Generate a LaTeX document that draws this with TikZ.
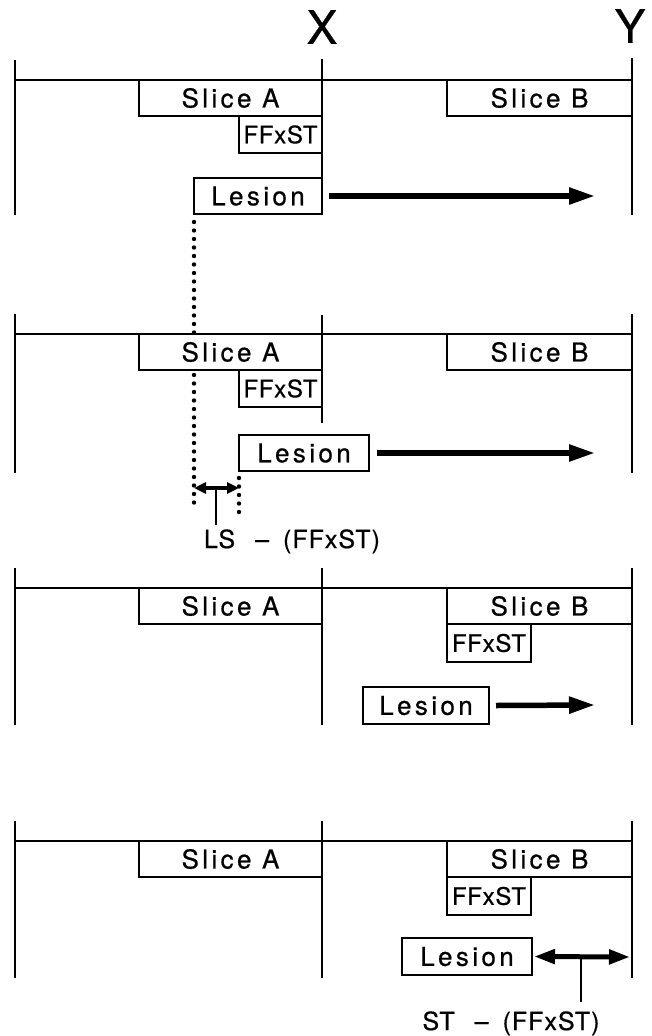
\documentclass[tikz,border=0pt]{standalone}
\usepackage{fontspec}
\setmainfont{TeX Gyre Heros}
\newfontfamily\spacedfont[LetterSpace=13,FakeBold=0.6]{TeX Gyre Heros}
\newfontfamily\ffxfont[LetterSpace=3,FakeBold=0.6]{TeX Gyre Heros}
\newfontfamily\labfont[LetterSpace=4,FakeBold=0.6]{TeX Gyre Heros}
\newfontfamily\bigfont[FakeBold=0.6]{TeX Gyre Heros}
\usetikzlibrary{arrows.meta}
\begin{document}
\begin{tikzpicture}[x=1pt,y=-1pt,
  ln/.style={line width=2.8pt},
  bx/.style={draw, fill=white, line width=2.8pt, inner sep=0pt, outer sep=0pt, anchor=north west,
    font=\spacedfont\fontsize{26}{26}\selectfont},
  fx/.style={bx, font=\ffxfont\fontsize{24}{24}\selectfont},
  lab/.style={anchor=base, inner sep=0pt, font=\labfont\fontsize{25}{25}\selectfont},
  big/.style={line width=5.5pt, -{Triangle[length=26pt,width=16pt]}},
  dbl/.style={line width=4pt, {Triangle[length=12pt,width=11pt]}-{Triangle[length=12pt,width=11pt]}},
  dblb/.style={line width=5pt, {Triangle[length=21pt,width=14pt]}-{Triangle[length=21pt,width=14pt]}},
  dots/.style={line width=4.4pt, line cap=round, dash pattern=on 0pt off 8.5pt}
]
\useasboundingbox (0,0) rectangle (652,1036);

% axis labels
\node[font=\bigfont\fontsize{46}{46}\selectfont, inner sep=0pt] (X) at (322,27) {X};
\node[font=\bigfont\fontsize{46}{46}\selectfont, inner sep=0pt] (Y) at (630,26) {Y};

% dotted guide lines (behind boxes)
\coordinate (d1a) at (194,222);
\coordinate (d1b) at (194,510);
\coordinate (d2a) at (239,478);
\coordinate (d2b) at (239,512);
\draw[dots] (d1a) -- (d1b);
\draw[dots] (d2a) -- (d2b);

% ---------- Panel 1 ----------
\draw[ln] (15,60) -- (15,215);
\draw[ln] (15,80) -- (632,80);
\draw[ln] (322,59) -- (322,214);
\draw[ln] (632,58) -- (632,215);
\node[bx, minimum width=183, minimum height=36] (sa1) at (139,80) {Slice A};
\node[bx, minimum width=185, minimum height=36] (sb1) at (447,80) {Slice B};
\node[fx, minimum width=83, minimum height=37] (f1) at (239,116) {FFxST};
\node[bx, minimum width=128, minimum height=36] (l1) at (194,178) {Lesion};
\coordinate (e1) at (595,196);
\draw[big] ([xshift=7pt]l1.east) -- (e1);

% ---------- Panel 2 ----------
\draw[ln] (15,314) -- (15,473);
\draw[ln] (15,334) -- (632,334);
\draw[ln] (322,315) -- (322,423);
\draw[ln] (632,314) -- (632,473);
\node[bx, minimum width=183, minimum height=36] (sa2) at (139,334) {Slice A};
\node[bx, minimum width=185, minimum height=36] (sb2) at (447,334) {Slice B};
\node[fx, minimum width=83, minimum height=37] (f2) at (239,370) {FFxST};
\node[bx, minimum width=130, minimum height=36] (l2) at (239,435) {Lesion};
\coordinate (e2) at (595,453);
\draw[big] ([xshift=8pt]l2.east) -- (e2);
\coordinate (a2l) at (194,488);
\coordinate (a2r) at (239,488);
\draw[dbl] (a2l) -- (a2r);
\coordinate (t2a) at (216,488);
\coordinate (t2b) at (216,525);
\draw[ln] (t2a) -- (t2b);
\node[lab] (ls) at (292,548) {LS\hspace{20pt}–\hspace{14pt}(FFxST)};

% ---------- Panel 3 ----------
\draw[ln] (15,568) -- (15,725);
\draw[ln] (15,588) -- (632,588);
\draw[ln] (322,568) -- (322,725);
\draw[ln] (632,568) -- (632,725);
\node[bx, minimum width=183, minimum height=36] (sa3) at (139,588) {Slice A};
\node[bx, minimum width=185, minimum height=36] (sb3) at (447,588) {Slice B};
\node[fx, minimum width=84, minimum height=38] (f3) at (447,624) {FFxST};
\node[bx, minimum width=126, minimum height=37] (l3) at (363,687) {Lesion};
\coordinate (e3) at (595,705);
\draw[big] ([xshift=7pt]l3.east) -- (e3);

% ---------- Panel 4 ----------
\draw[ln] (15,821) -- (15,978);
\draw[ln] (15,841) -- (632,841);
\draw[ln] (322,821) -- (322,978);
\draw[ln] (632,821) -- (632,978);
\node[bx, minimum width=183, minimum height=36] (sa4) at (139,841) {Slice A};
\node[bx, minimum width=185, minimum height=36] (sb4) at (447,841) {Slice B};
\node[fx, minimum width=84, minimum height=38] (f4) at (447,877) {FFxST};
\node[bx, minimum width=130, minimum height=37] (l4) at (402,938) {Lesion};
\coordinate (a4r) at (630,957);
\draw[dblb] ([xshift=2pt]l4.east) -- (a4r);
\coordinate (t4a) at (581,957);
\coordinate (t4b) at (581,1002);
\draw[ln] (t4a) -- (t4b);
\node[lab] (st) at (511,1030) {ST\hspace{20pt}–\hspace{14pt}(FFxST)};
\end{tikzpicture}
\end{document}
